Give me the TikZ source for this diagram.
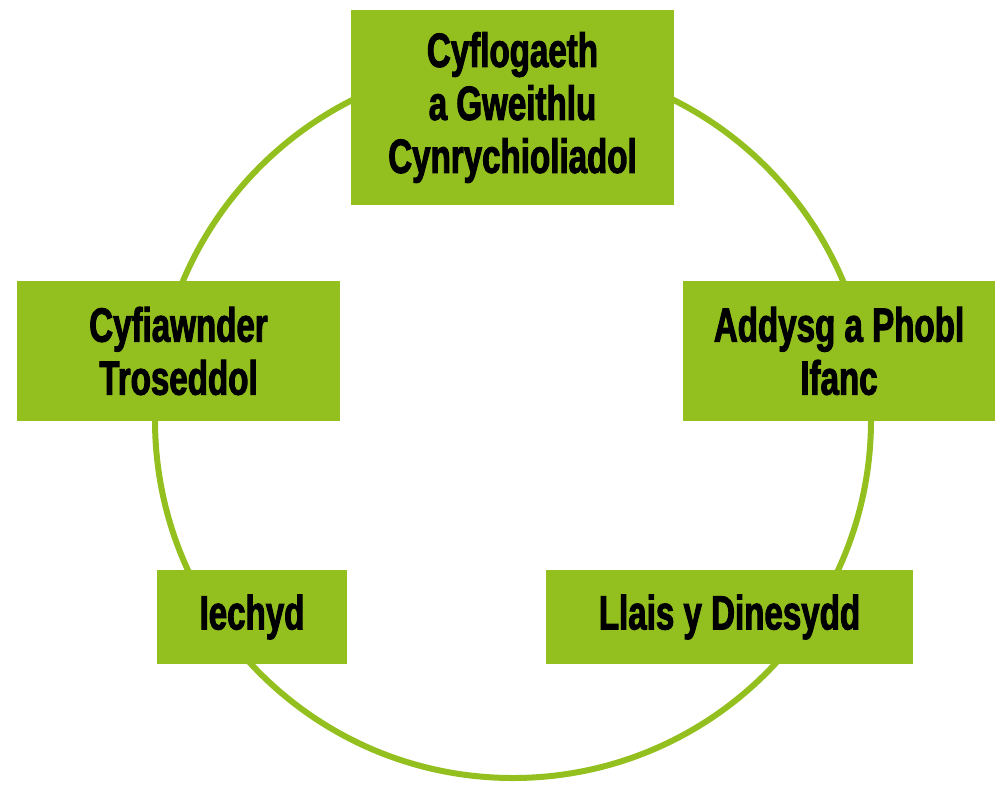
\documentclass[tikz,border=0pt]{standalone}
\usepackage{fontspec}
\setmainfont{Liberation Sans}[FakeStretch=0.69,FakeBold=2]
\definecolor{leaf}{HTML}{93C01F}
\begin{document}
\begin{tikzpicture}[x=1pt,y=-1pt,
  box/.style={fill=leaf,draw=none,inner sep=0pt,align=center,
    font=\bfseries\fontsize{48}{53}\selectfont,text=black}]
\useasboundingbox (0,0) rectangle (995,785);
\draw[leaf,line width=6pt] (513,420) circle[radius=358];
\node[box,minimum width=323pt,minimum height=195pt] (top) at (512.5,107.5) {Cyflogaeth\\a Gweithlu\\Cynrychioliadol};
\node[box,minimum width=323pt,minimum height=140pt] (left) at (178.5,351) {Cyfiawnder\\Troseddol};
\node[box,minimum width=312pt,minimum height=140pt] (right) at (839,351) {Addysg a Phobl\\Ifanc};
\node[box,minimum width=190pt,minimum height=94pt] (health) at (252,617) {Iechyd};
\node[box,minimum width=367pt,minimum height=94pt] (voice) at (729.5,617) {Llais y Dinesydd};
\end{tikzpicture}
\end{document}
